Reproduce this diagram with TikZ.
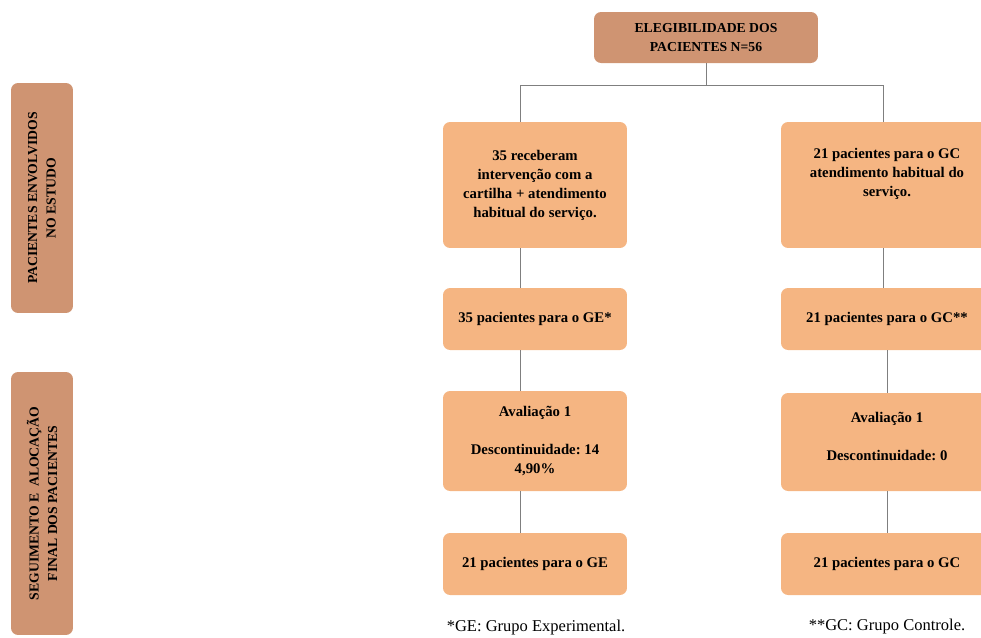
\documentclass[tikz,border=0pt]{standalone}
\usepackage{fontspec}
\setmainfont{Liberation Serif}
\frenchspacing
\definecolor{headbrown}{HTML}{CF9472}
\definecolor{boxorange}{HTML}{F5B582}
\definecolor{linegray}{HTML}{7F7F7F}
\begin{document}
\begin{tikzpicture}[x=0.02cm, y=-0.02cm,
  header/.style={fill=headbrown, rounded corners=4pt, align=center, inner sep=2pt,
    font=\bfseries\fontsize{7.8}{10.5}\selectfont},
  stepbox/.style={fill=boxorange, rounded corners=4pt, align=center, inner sep=2pt,
    minimum width=3.68cm, font=\bfseries\fontsize{8.4}{10.8}\selectfont},
  note/.style={font=\fontsize{9.4}{11}\selectfont},
  link/.style={draw=linegray, line width=0.5pt}]
\clip (0,0) rectangle (981,637);
% Header and side labels
\node[header, minimum width=4.48cm, minimum height=1.02cm] (top) at (706,37.5)
  {ELEGIBILIDADE DOS\\PACIENTES N=56};
\node[header, rotate=90, minimum width=4.6cm, minimum height=1.24cm] (side1) at (42,198)
  {PACIENTES ENVOLVIDOS\\NO ESTUDO};
\node[header, rotate=90, minimum width=5.26cm, minimum height=1.24cm] (side2) at (42,503.5)
  {SEGUIMENTO E \ ALOCAÇÃO\\FINAL DOS PACIENTES};
% GE column
\node[stepbox, minimum height=2.52cm] (ge1) at (535,185)
  {35 receberam\\intervenção com a\\cartilha + atendimento\\habitual do serviço.};
\node[stepbox, minimum height=1.24cm] (ge2) at (535,319) {35 pacientes para o GE*};
\node[stepbox, minimum height=2.0cm] (ge3) at (535,441)
  {Avaliação 1\\[10.8pt]Descontinuidade: 14\\4,90\%};
\node[stepbox, minimum height=1.24cm] (ge4) at (535,564) {21 pacientes para o GE};
% GC column
\node[stepbox, minimum width=4.24cm, minimum height=2.52cm] (gc1) at (887,185)
  {21 pacientes para o GC\\atendimento habitual do\\serviço.\\[4pt]};
\node[stepbox, minimum width=4.24cm, minimum height=1.24cm] (gc2) at (887,319) {21 pacientes para o GC**};
\node[stepbox, minimum width=4.24cm, minimum height=1.96cm] (gc3) at (887,442)
  {Avaliação 1\\[10.8pt]Descontinuidade: 0\\[-4pt]};
\node[stepbox, minimum width=4.24cm, minimum height=1.24cm] (gc4) at (887,564) {21 pacientes para o GC};
% Footnotes
\node[note] (gefoot) at (536,628) {*GE: Grupo Experimental.};
\node[note] (gcfoot) at (887,627) {**GC: Grupo Controle.};
% Connectors
\coordinate (split) at (706,85);
\coordinate (geline) at (520,85);
\coordinate (gcline) at (883,85);
\draw[link] (top) -- (split);
\draw[link] (geline) -- (gcline);
\draw[link] (geline) -- (geline |- ge1.north);
\draw[link] (gcline) -- (gcline |- gc1.north);
\draw[link] (ge1.south -| geline) -- (ge2.north -| geline);
\draw[link] (ge2.south -| geline) -- (ge3.north -| geline);
\draw[link] (ge3.south -| geline) -- (ge4.north -| geline);
\draw[link] (gc1.south -| gcline) -- (gc2.north -| gcline);
\draw[link] (gc2) -- (gc3);
\draw[link] (gc3) -- (gc4);
\end{tikzpicture}
\end{document}
